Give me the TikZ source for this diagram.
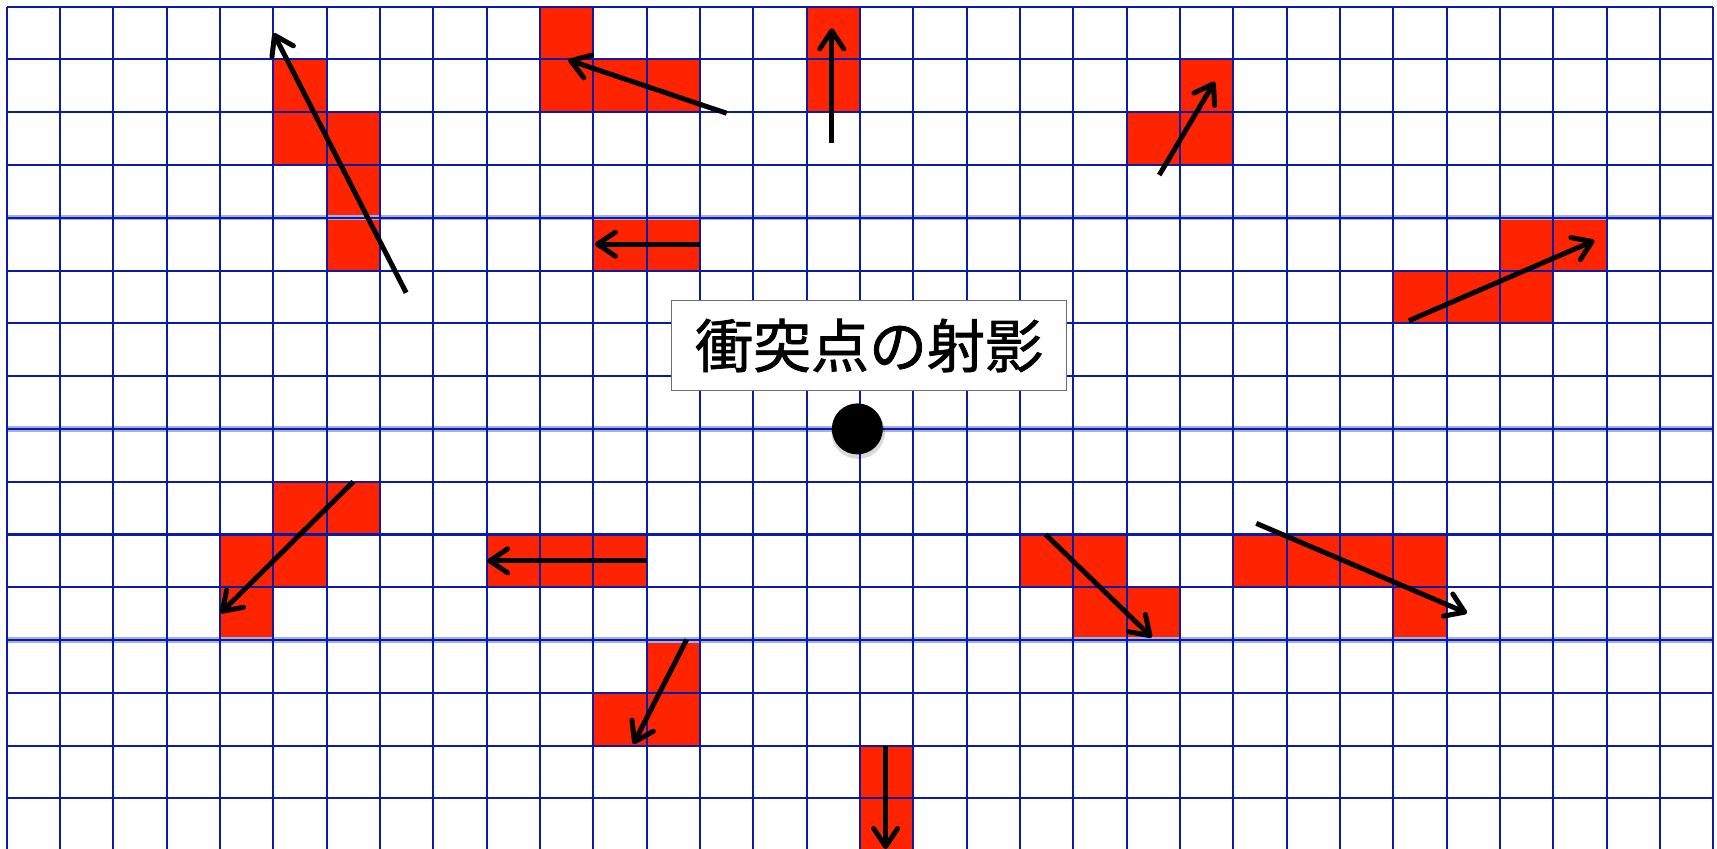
\documentclass[tikz,border=0pt]{standalone}
\usepackage{fontspec}
\newfontfamily\jpfont[FakeBold=1.2]{Noto Sans CJK JP}
\usetikzlibrary{arrows.meta}
\definecolor{gridblue}{RGB}{10,28,165}
\definecolor{lightgrid}{RGB}{165,175,225}
\definecolor{cellred}{RGB}{255,36,0}
\definecolor{boxgray}{RGB}{110,110,110}
\tikzset{
  gridline/.style={draw=gridblue, line width=1.05pt},
  seamline/.style={draw=lightgrid, line width=2.6pt},
  redcell/.style={fill=cellred},
  vec/.style={draw=black, line width=2.5pt, -{Straight Barb[length=9pt,width=12pt,round]}},
  labelbox/.style={draw=boxgray, line width=0.6pt, fill=white, minimum width=197.5pt,
    minimum height=45.3pt, inner sep=0pt, font=\jpfont\fontsize{29}{29}\selectfont},
  hitdot/.style={circle, fill=black, minimum size=25.5pt, inner sep=0pt},
}
\begin{document}
\begin{tikzpicture}[x=26.667pt, y=-26.39pt]
\useasboundingbox (-3.333pt,3.333pt) rectangle (855.167pt,-421.167pt);
\clip (-3.333pt,3.333pt) rectangle (855.167pt,-421.167pt);
\fill[white] (-3.333pt,3.333pt) rectangle (855.167pt,-421.167pt);
% red cells
\foreach \c/\r in {5/1,5/2,6/2,6/3,6/4,
  10/0,10/1,11/1,12/1, 15/0,15/1, 11/4,12/4,
  22/1,21/2,22/2, 28/4,29/4,26/5,27/5,28/5,
  5/9,6/9,4/10,5/10,4/11, 9/10,10/10,11/10,
  12/12,11/13,12/13, 19/10,20/10,20/11,21/11,
  23/10,24/10,25/10,26/10,26/11, 16/14,16/15}
  \fill[redcell] (\c,\r) rectangle ++(1,1);
% seams
\foreach \r in {4,8,12} \draw[seamline] (0,\r) -- (32,\r);
% grid
\foreach \c in {0,...,32} \draw[gridline] (\c,0) -- (\c,16.5);
\foreach \r in {0,...,16} \draw[gridline] (0,\r) -- (32,\r);
% arrows
\coordinate (a1s) at (7.49,5.42);  \coordinate (a1e) at (5.0,0.5);
\coordinate (a2s) at (13.5,2.02);  \coordinate (a2e) at (10.53,1.01);
\coordinate (a3s) at (15.47,2.59); \coordinate (a3e) at (15.47,0.41);
\coordinate (a4s) at (13.0,4.5);   \coordinate (a4e) at (11.03,4.5);
\coordinate (a5s) at (21.61,3.19); \coordinate (a5e) at (22.65,1.42);
\coordinate (a6s) at (26.29,5.95); \coordinate (a6e) at (29.77,4.43);
\coordinate (a7s) at (6.5,9.0);    \coordinate (a7e) at (4.01,11.49);
\coordinate (a8s) at (12.0,10.5);  \coordinate (a8e) at (9.01,10.5);
\coordinate (a9s) at (12.75,11.99); \coordinate (a9e) at (11.75,13.97);
\coordinate (a10s) at (19.48,10.0); \coordinate (a10e) at (21.47,11.95);
\coordinate (a11s) at (23.43,9.79); \coordinate (a11e) at (27.38,11.49);
\coordinate (a12s) at (16.48,14.0); \coordinate (a12e) at (16.48,15.96);
\foreach \i in {1,...,12} \draw[vec] (a\i s) -- (a\i e);
% label
\node[labelbox] (label) at (16.17,6.42) {衝突点の射影};
% dot
\fill[black, opacity=0.15] ([xshift=0.4pt,yshift=-1.6pt]15.95,8.0) circle (13.4pt);
\node[hitdot] (hit) at (15.95,8.0) {};
\end{tikzpicture}
\end{document}
